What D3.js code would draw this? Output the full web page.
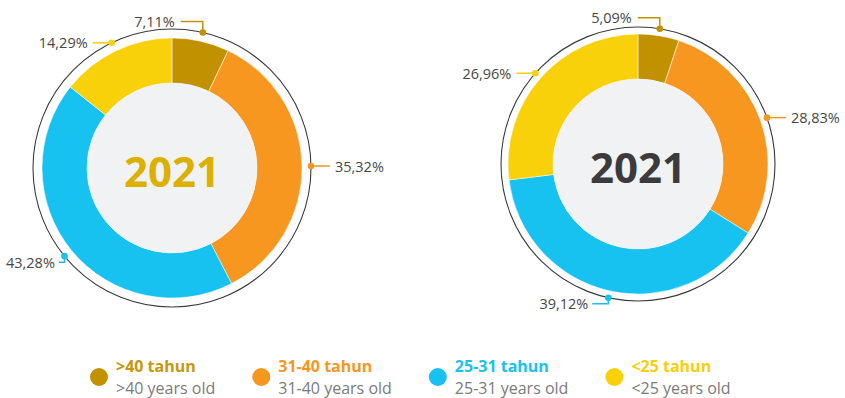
<!DOCTYPE html>
<html>
<head>
<meta charset="utf-8">
<script src="https://cdn.jsdelivr.net/npm/d3@7"></script>
<style>
  html, body { margin: 0; padding: 0; background: #ffffff; }
  svg { display: block; font-family: "Open Sans", "Noto Sans", sans-serif; }
</style>
</head>
<body>
<svg id="chart" width="845" height="398"></svg>
<script>
// Age groups (Indonesian label + English subtitle)
const categories = [">40 tahun", "31-40 tahun", "25-31 tahun", "<25 tahun"];
const categoriesEn = [">40 years old", "31-40 years old", "25-31 years old", "<25 years old"];
const yearLabels = ["2021", "2021"];

// Share of employees per age group (%)
const valuesLeft = [7.11, 35.32, 43.28, 14.29];
const valuesRight = [5.09, 28.83, 39.12, 26.96];

const colors = ["#c29100", "#f7971f", "#17c2f1", "#f9d10b"];
const legendTitleColors = ["#c8970a", "#f7971f", "#17c2f1", "#f9ce0b"];

const W = 845, H = 398;
const svg = d3.select("#chart");

const innerR = 85, outerR = 130;
const charts = [
  { values: valuesLeft,  title: yearLabels[0], titleColor: "#dcb000", cx: 172, cy: 168, outline: 139 },
  { values: valuesRight, title: yearLabels[1], titleColor: "#3b3b3d", cx: 638, cy: 164, outline: 137 }
];

const pie = d3.pie().sort(null).value(d => d);
const arc = d3.arc().innerRadius(innerR).outerRadius(outerR);
const fmt = v => d3.format(".2f")(v).replace(".", ",") + "%";

charts.forEach(c => {
  const g = svg.append("g").attr("transform", `translate(${c.cx},${c.cy})`);

  // thin outline ring
  g.append("circle")
    .attr("r", c.outline)
    .attr("fill", "none")
    .attr("stroke", "#3a3a3a")
    .attr("stroke-width", 1.1);

  const arcs = pie(c.values);

  g.selectAll("path.slice")
    .data(arcs)
    .join("path")
    .attr("class", "slice")
    .attr("d", arc)
    .attr("fill", (d, i) => colors[i])
    .attr("stroke", "#ffffff")
    .attr("stroke-width", 0.5);

  // light centre disc
  g.append("circle").attr("r", innerR).attr("fill", "#f1f2f4");

  g.append("text")
    .attr("y", 2)
    .attr("text-anchor", "middle")
    .attr("dominant-baseline", "central")
    .attr("font-size", 42)
    .attr("font-weight", 700)
    .attr("fill", c.titleColor)
    .text(c.title);

  // value labels with leader lines anchored on the outline ring
  arcs.forEach((d, i) => {
    const a = (d.startAngle + d.endAngle) / 2;
    const px = c.outline * Math.sin(a);
    const py = -c.outline * Math.cos(a);
    const col = colors[i];
    const label = fmt(c.values[i]);

    const t = g.append("text")
      .attr("font-size", 14.5)
      .attr("fill", "#474747")
      .attr("dominant-baseline", "central")
      .text(label);
    const tw = t.node().getComputedTextLength();

    let pts, tx, ty, anchor;
    if (Math.cos(a) > 0.95) {
      // near the top: go up, then left
      const ly = py - 11;
      pts = [[px, py], [px, ly], [px - 22, ly]];
      tx = px - 28; ty = ly; anchor = "end";
    } else if (Math.cos(a) < -0.6) {
      // lower part: go down, then left
      const ly = py + 6;
      let end = px - 20;
      const minEnd = tw + 6 - c.cx;
      if (end < minEnd) end = minEnd;
      pts = [[px, py], [px, ly], [end + 4, ly]];
      tx = end; ty = ly; anchor = "end";
    } else {
      const s = Math.sign(Math.sin(a));
      pts = [[px, py], [px + s * 19, py]];
      tx = px + s * 24; ty = py; anchor = s > 0 ? "start" : "end";
    }

    g.append("path")
      .attr("d", d3.line()(pts))
      .attr("fill", "none")
      .attr("stroke", col)
      .attr("stroke-width", 1.5);
    g.append("circle")
      .attr("cx", px).attr("cy", py).attr("r", 3.3)
      .attr("fill", col);
    t.attr("x", tx).attr("y", ty).attr("text-anchor", anchor).raise();
  });
});

// legend: swatch + two-line label, items flowed left to right
const legend = svg.append("g").attr("class", "legend");
let x = 90;
categories.forEach((cat, i) => {
  const item = legend.append("g").attr("transform", `translate(${x},0)`);
  item.append("circle").attr("cx", 9).attr("cy", 377).attr("r", 9).attr("fill", colors[i]);
  const t1 = item.append("text")
    .attr("x", 26).attr("y", 372)
    .attr("font-size", 16).attr("font-weight", 700)
    .attr("fill", legendTitleColors[i])
    .text(cat);
  const t2 = item.append("text")
    .attr("x", 26).attr("y", 394)
    .attr("font-size", 16)
    .attr("fill", "#7b7b7b")
    .text(categoriesEn[i]);
  const w = Math.max(t1.node().getComputedTextLength(), t2.node().getComputedTextLength());
  x += 26 + w + 37;
});
</script>
</body>
</html>
